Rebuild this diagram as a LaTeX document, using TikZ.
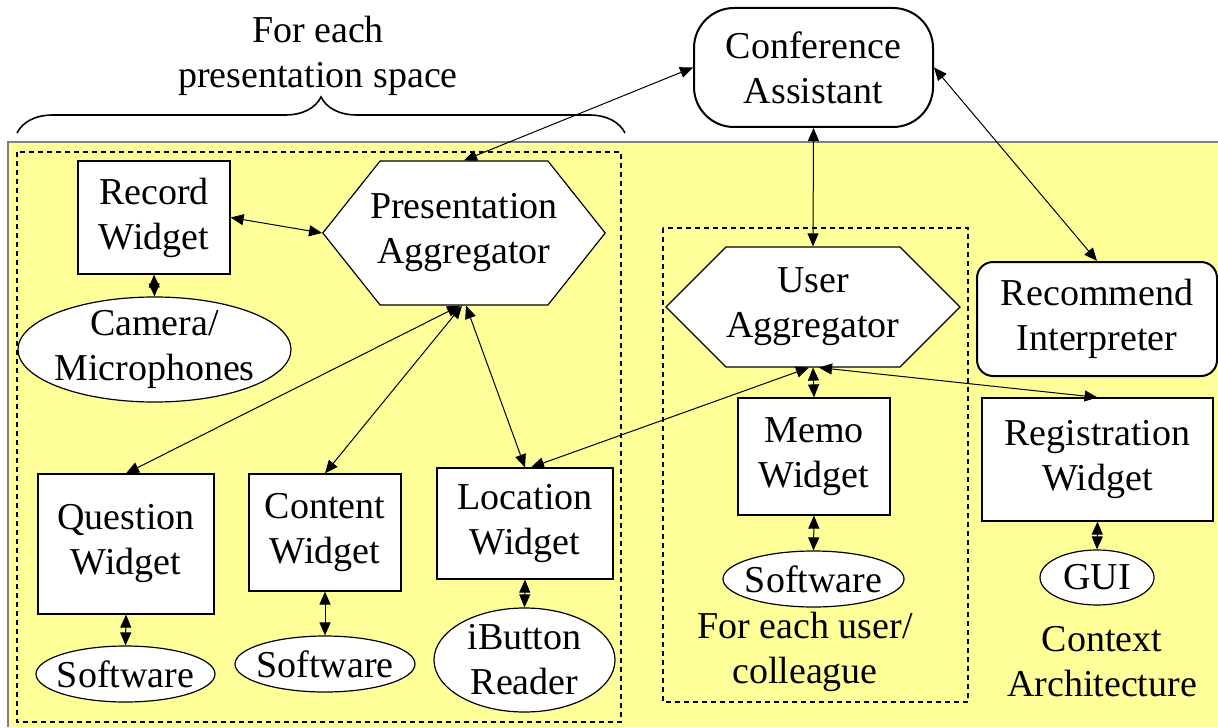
\documentclass[tikz,border=0pt]{standalone}
\usepackage{fontspec}
\setmainfont{Liberation Serif}
\usetikzlibrary{positioning, arrows.meta, shapes.geometric, shapes.symbols, decorations.pathreplacing}
\definecolor{bgyellow}{HTML}{FFFF99}

\begin{document}
\begin{tikzpicture}[x=0.5pt, y=-0.5pt, font=\fontsize{19}{22.5}\selectfont,
  widget/.style={draw, fill=white, line width=0.6pt, align=center, inner sep=0pt},
  agg/.style={signal, signal to=east and west, draw, fill=white, line width=0.6pt, align=center, inner sep=0pt},
  interp/.style={draw, fill=white, line width=1pt, rounded corners=#1, align=center, inner sep=0pt},
  sensor/.style={ellipse, draw, fill=white, line width=0.6pt, align=center, inner xsep=-8pt, inner ysep=-4pt},
  link/.style={{Triangle[length=6.5pt,width=5.5pt]}-{Triangle[length=6.5pt,width=5.5pt]}, line width=0.5pt},
  note/.style={align=center, inner sep=0pt}]
  \useasboundingbox (0,0) rectangle (1218,727);
  \fill[bgyellow] (8,142) rectangle (1218,727);
  \draw[gray, line width=0.8pt] (8,727) -- (8,142) -- (1218,142);
  \draw[dashed, dash pattern=on 2.5pt off 2pt, line width=0.6pt] (17,152) rectangle (621,722);
  \draw[dashed, dash pattern=on 2.5pt off 2pt, line width=0.6pt] (663,228) rectangle (968,702);
  \draw[decorate, decoration={brace, amplitude=18pt}, line width=0.8pt] (17,133) -- (625,133);

  \node[widget, minimum width=76pt, minimum height=56.5pt] (rec) at (154,217.5) {Record\\Widget};
  \node[agg, signal pointer angle=103, inner xsep=-5pt, minimum height=72pt] (pres) at (464,233) {Presentation\\Aggregator};
  \node[sensor, minimum width=136.5pt, minimum height=52.5pt] (cam) at (154.5,349.5) {Camera/\\Microphones};
  \node[widget, minimum width=88pt, minimum height=70pt] (qst) at (126,544) {Question\\Widget};
  \node[widget, minimum width=76pt, minimum height=58.5pt] (cnt) at (325,532.5) {Content\\Widget};
  \node[widget, minimum width=88pt, minimum height=55.5pt] (loc) at (525,523.5) {Location\\Widget};
  \node[sensor, minimum width=89.5pt, minimum height=28pt] (sw1) at (125.5,674) {Software};
  \node[sensor, minimum width=90pt, minimum height=28pt] (sw2) at (325,664) {Software};
  \node[sensor, minimum width=90.5pt, minimum height=52pt] (ibt) at (524.5,660) {iButton\\Reader};

  \node[interp=20pt, minimum width=119.5pt, minimum height=59.5pt] (conf) at (813.5,67.5) {Conference\\Assistant};
  \node[agg, signal pointer angle=90, minimum width=147pt, minimum height=60pt] (user) at (813,307) {User\\Aggregator};
  \node[widget, minimum width=76pt, minimum height=58.5pt] (memo) at (814,456.5) {Memo\\Widget};
  \node[sensor, minimum width=90.5pt, minimum height=28pt] (sw3) at (813.5,579) {Software};
  \node[interp=8pt, minimum width=120pt, minimum height=57pt] (rcm) at (1097,319) {Recommend\\Interpreter};
  \node[widget, minimum width=115.5pt, minimum height=61.5pt] (reg) at (1097.5,459.5) {Registration\\Widget};
  \node[sensor, minimum width=57pt, minimum height=27.5pt] (gui) at (1097,577.5) {GUI};

  \node[note] (pspace) at (318,56) {For each\\presentation space};
  \node[note] (uspace) at (805,652) {For each user/\\colleague};
  \node[note] (arch) at (1102,662) {Context\\Architecture};

  \draw[link] (rec.east) -- (pres.west);
  \draw[link] (rec.south) -- (cam.north);
  \draw[link] ([xshift=-2pt]pres.south) -- (qst.north);
  \draw[link] ([xshift=-1pt]pres.south) -- (cnt.north);
  \draw[link] ([xshift=1pt]pres.south) -- (loc.north);
  \draw[link] (qst.south) -- (sw1.north);
  \draw[link] (cnt.south) -- (sw2.north);
  \draw[link] (loc.south) -- (ibt.north);
  \draw[link] (pres.north) -- (conf.west);
  \draw[link] (conf.south) -- (user.north);
  \draw[link] (conf.east) -- (rcm.north);
  \draw[link] (user.south) -- (memo.north);
  \draw[link] ([xshift=-2pt]user.south) -- ([xshift=3pt]loc.north);
  \draw[link] ([xshift=3pt]user.south) -- (reg.north);
  \draw[link] (memo.south) -- (sw3.north);
  \draw[link] (reg.south) -- (gui.north);
\end{tikzpicture}
\end{document}
